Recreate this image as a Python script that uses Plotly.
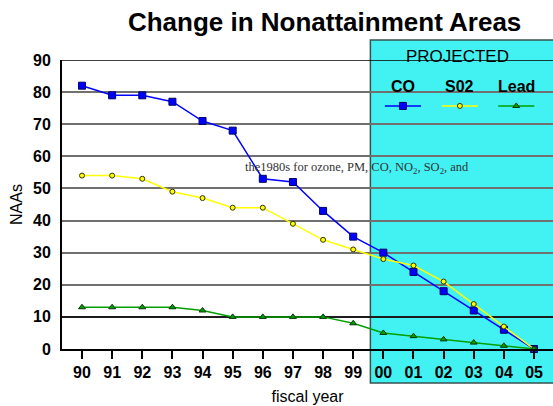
import plotly.graph_objects as go

years = ["90", "91", "92", "93", "94", "95", "96", "97", "98", "99",
         "00", "01", "02", "03", "04", "05"]
co = [82, 79, 79, 77, 71, 68, 53, 52, 43, 35, 30, 24, 18, 12, 6, 0]
so2 = [54, 54, 53, 49, 47, 44, 44, 39, 34, 31, 28, 26, 21, 14, 7, 0]
lead = [13, 13, 13, 13, 12, 10, 10, 10, 10, 8, 5, 4, 3, 2, 1, 0]
ytick_vals = [0, 10, 20, 30, 40, 50, 60, 70, 80, 90]

xs = list(range(len(years)))
XR = [-0.664, 15.63]
FONT = "Liberation Sans, Arial, sans-serif"

series = [
    ("CO", co, "#0000ff", dict(symbol="square", size=7, color="#0000ff",
                               line=dict(color="#000066", width=1))),
    ("S02", so2, "#ffff00", dict(symbol="circle", size=5, color="#ffff00",
                                 line=dict(color="#333300", width=1))),
    ("Lead", lead, "#00a000", dict(symbol="triangle-up", size=6, color="#00a000",
                                   line=dict(color="#003300", width=1))),
]

fig = go.Figure()
for name, vals, col, mk in series:
    fig.add_trace(go.Scatter(x=xs, y=vals, mode="lines+markers", name=name,
                             line=dict(color=col, width=1.5), marker=mk,
                             showlegend=False, cliponaxis=False))

# custom legend: label above a short line sample
leg_x = [10.65, 12.54, 14.41]
leg_y = 75.7
for (name, vals, col, mk), lx in zip(series, leg_x):
    fig.add_trace(go.Scatter(x=[lx - 0.6, lx + 0.6], y=[leg_y, leg_y], mode="lines",
                             line=dict(color=col, width=1.5), showlegend=False,
                             hoverinfo="skip", cliponaxis=False))
    fig.add_trace(go.Scatter(x=[lx], y=[leg_y], mode="markers", marker=mk,
                             showlegend=False, hoverinfo="skip", cliponaxis=False))
    fig.add_annotation(x=lx, y=81.8, text="<b>%s</b>" % name, showarrow=False,
                       font=dict(family=FONT, size=16, color="black"),
                       xanchor="center", yanchor="middle")

fig.add_annotation(x=12.45, xref="x", y=1.0138, yref="paper", text="PROJECTED",
                   showarrow=False, font=dict(family=FONT, size=17, color="black"),
                   xanchor="center", yanchor="middle")

fig.add_annotation(x=5.34, y=56.5, text="the1980s for ozone, PM, CO, NO<sub>2</sub>, SO<sub>2</sub>, and",
                   showarrow=False, xanchor="left", yanchor="middle",
                   font=dict(family="Liberation Serif, Times New Roman, serif", size=12.5,
                             color="#333333"))

# projected region box
fig.add_shape(type="rect", xref="x", yref="paper", x0=9.57, x1=16.5,
              y0=-0.1176, y1=1.069, fillcolor="#42F2F2",
              line=dict(color="#3a5050", width=1.5), layer="below")

# darker reference lines at 10 and 90
for yv in (10, 90):
    fig.add_shape(type="line", xref="x", yref="y", x0=XR[0], x1=XR[1], y0=yv, y1=yv,
                  line=dict(color="black", width=1.5), layer="between")

fig.update_layout(
    width=553, height=406,
    margin=dict(l=62, r=0, t=60, b=57),
    paper_bgcolor="white", plot_bgcolor="rgba(0,0,0,0)",
    title=dict(text="<b>Change in Nonattainment Areas</b>", x=0.587, xanchor="center",
               y=0.945, yanchor="middle",
               font=dict(family=FONT, size=26, color="black")),
    xaxis=dict(range=XR, tickvals=xs, ticktext=years, ticks="outside", ticklen=8,
               tickwidth=1.5, tickcolor="black", showgrid=False, zeroline=False,
               showline=True, linecolor="black", linewidth=2,
               tickfont=dict(family=FONT, size=16, color="black", weight="bold"),
               title=dict(text="fiscal year", standoff=11,
                          font=dict(family=FONT, size=16, color="black"))),
    yaxis=dict(range=[0, 90], tickvals=ytick_vals, ticks="", showgrid=True,
               gridcolor="#707070", gridwidth=1.5, zeroline=False,
               showline=True, linecolor="black", linewidth=2, ticklabelstandoff=6,
               tickfont=dict(family=FONT, size=16, color="black", weight="bold"),
               title=dict(text="NAAs", standoff=6,
                          font=dict(family=FONT, size=16, color="black"))),
)

fig.write_html("out.html")
